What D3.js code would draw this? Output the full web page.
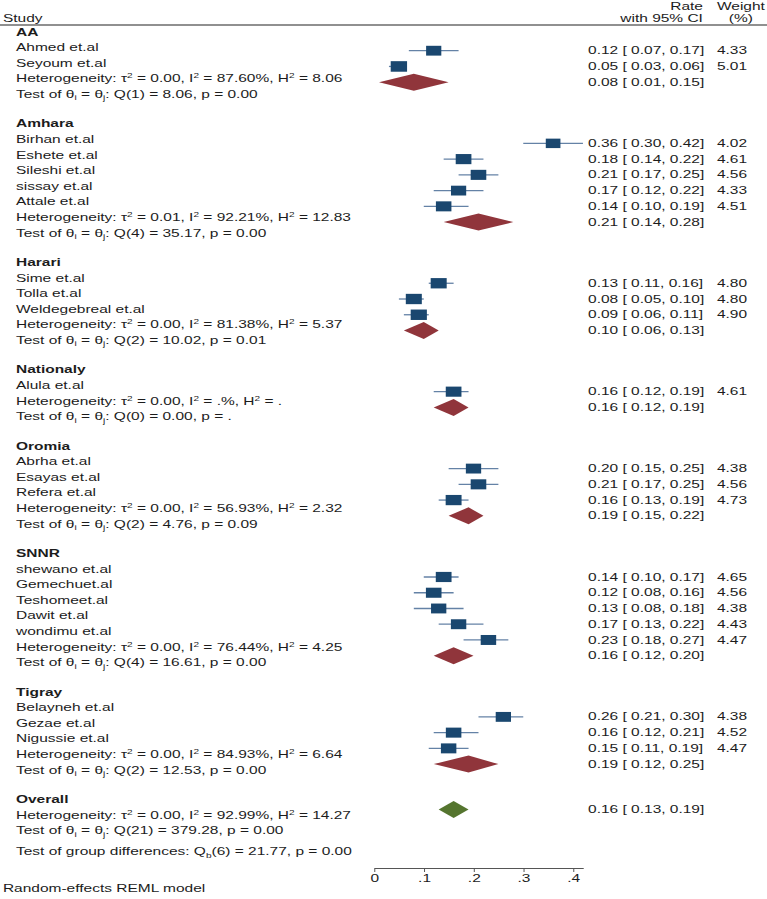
<!DOCTYPE html>
<html>
<head>
<meta charset="utf-8">
<script src="https://cdnjs.cloudflare.com/ajax/libs/d3/7.8.5/d3.min.js"></script>
<style>
  body { margin: 0; background: #fff; }
  text { font-family: "Liberation Sans", Arial, sans-serif; font-size: 10px; fill: #1c1c1c; }
</style>
</head>
<body>
<svg id="chart"></svg>
<script>
// subgroups
const groups = ['AA', 'Amhara', 'Harari', 'Nationaly', 'Oromia', 'SNNR', 'Tigray'];

// studies
const studies = [
  'Ahmed et.al', 'Seyoum et.al',
  'Birhan et.al', 'Eshete et.al', 'Sileshi et.al', 'sissay et.al', 'Attale et.al',
  'Sime et.al', 'Tolla et.al', 'Weldegebreal et.al',
  'Alula et.al',
  'Abrha et.al', 'Esayas et.al', 'Refera et.al',
  'shewano et.al', 'Gemechuet.al', 'Teshomeet.al', 'Dawit et.al', 'wondimu et.al',
  'Belayneh et.al', 'Gezae et.al', 'Nigussie et.al'
];
const studyGroup = [0, 0, 1, 1, 1, 1, 1, 2, 2, 2, 3, 4, 4, 4, 5, 5, 5, 5, 5, 6, 6, 6];
const rate  = [0.12, 0.05, 0.36, 0.18, 0.21, 0.17, 0.14, 0.13, 0.08, 0.09, 0.16, 0.20, 0.21, 0.16, 0.14, 0.12, 0.13, 0.17, 0.23, 0.26, 0.16, 0.15];
const lower = [0.07, 0.03, 0.30, 0.14, 0.17, 0.12, 0.10, 0.11, 0.05, 0.06, 0.12, 0.15, 0.17, 0.13, 0.10, 0.08, 0.08, 0.13, 0.18, 0.21, 0.12, 0.11];
const upper = [0.17, 0.06, 0.42, 0.22, 0.25, 0.22, 0.19, 0.16, 0.10, 0.11, 0.19, 0.25, 0.25, 0.19, 0.17, 0.16, 0.18, 0.22, 0.27, 0.30, 0.21, 0.19];
const weight = [4.33, 5.01, 4.02, 4.61, 4.56, 4.33, 4.51, 4.80, 4.80, 4.90, 4.61, 4.38, 4.56, 4.73, 4.65, 4.56, 4.38, 4.43, 4.47, 4.38, 4.52, 4.47];

// subgroup summaries
const groupRate  = [0.08, 0.21, 0.10, 0.16, 0.19, 0.16, 0.19];
const groupLower = [0.01, 0.14, 0.06, 0.12, 0.15, 0.12, 0.12];
const groupUpper = [0.15, 0.28, 0.13, 0.19, 0.22, 0.20, 0.25];
const groupTau2  = [0.00, 0.01, 0.00, 0.00, 0.00, 0.00, 0.00];
const groupI2    = [87.60, 92.21, 81.38, null, 56.93, 76.44, 84.93];
const groupH2    = [8.06, 12.83, 5.37, null, 2.32, 4.25, 6.64];
const groupQdf   = [1, 4, 2, 0, 2, 4, 2];
const groupQ     = [8.06, 35.17, 10.02, 0.00, 4.76, 16.61, 12.53];
const groupP     = [0.00, 0.00, 0.01, null, 0.09, 0.00, 0.00];

// overall
const overall = [0.16, 0.13, 0.19];
const overallHet = [0.00, 92.99, 14.27];
const overallQ = [21, 379.28, 0.00];
const groupDiff = [6, 21.77, 0.00];

const xTicks = [0, 0.1, 0.2, 0.3, 0.4];

const width = 767;
const height = 899;
const sx = 1.55;          // the picture is stretched sideways
const step = 15.6;
const gap = 29.4;
const base = 3.6;         // baseline below row centre

const f2 = d3.format('.2f');
const dot = v => v == null ? '.' : f2(v);
const ci = (r, lo, hi) => `${f2(r)} [ ${f2(lo)}, ${f2(hi)}]`;

const svg = d3.select('#chart')
  .attr('width', width)
  .attr('height', height);

const g = svg.append('g')
  .attr('transform', `scale(${sx},1)`);

const x = d3.scaleLinear()
  .domain([0, d3.max(upper)])
  .range([241.3, 376.1]);

const box = d3.scaleSqrt()
  .domain([0, 4.5])
  .range([0, 10]);

// build the rows of the left column
const hetParts = (t, i, h) =>
  [['Heterogeneity: τ'], ['2', 'sup'], [` = ${t}, I`], ['2', 'sup'],
   [` = ${i}%, H`], ['2', 'sup'], [` = ${h}`]];
const testParts = (df, q, p) =>
  [['Test of θ'], ['i', 'sub'], [' = θ'], ['j', 'sub'],
   [`: Q(${df}) = ${q}, p = ${p}`]];

const rows = [];
let y = 32;
groups.forEach((name, gi) => {
  rows.push({ kind: 'header', text: name, y: y });
  studies.forEach((s, i) => {
    if (studyGroup[i] !== gi) return;
    y += step;
    rows.push({ kind: 'study', i: i, text: s, y: y });
  });
  y += step;
  rows.push({ kind: 'het', gi: gi, y: y,
    parts: hetParts(f2(groupTau2[gi]), dot(groupI2[gi]), dot(groupH2[gi])) });
  y += step;
  rows.push({ kind: 'test', y: y,
    parts: testParts(groupQdf[gi], f2(groupQ[gi]), dot(groupP[gi])) });
  y += gap;
});
rows.push({ kind: 'header', text: 'Overall', y: y, overall: true });
y += step;
rows.push({ kind: 'text', y: y,
  parts: hetParts(f2(overallHet[0]), f2(overallHet[1]), f2(overallHet[2])) });
y += step;
rows.push({ kind: 'text', y: y,
  parts: testParts(overallQ[0], f2(overallQ[1]), f2(overallQ[2])) });
y += 21;
rows.push({ kind: 'text', y: y,
  parts: [['Test of group differences: Q'], ['b', 'sub'],
          [`(${groupDiff[0]}) = ${f2(groupDiff[1])}, p = ${f2(groupDiff[2])}`]] });

// the right column drifts a little against the left one
const yRight = d3.scaleLinear()
  .domain([47.6, 752])
  .range([50.7, 761.7]);

function rich(sel, parts) {
  let shift = 0;
  parts.forEach(([s, k]) => {
    const want = k === 'sup' ? -4 : k === 'sub' ? 2.5 : 0;
    sel.append('tspan')
      .attr('dy', want - shift)
      .style('font-size', k ? '6.5px' : null)
      .text(s);
    shift = want;
  });
}

// header
g.append('text').attr('x', 1.9).attr('y', 18 + base).text('Study');
g.append('text').attr('x', 453.5).attr('y', 6 + base).attr('text-anchor', 'end').text('Rate');
g.append('text').attr('x', 453.5).attr('y', 18 + base).attr('text-anchor', 'end').text('with 95% CI');
g.append('text').attr('x', 478).attr('y', 6 + base).attr('text-anchor', 'middle').text('Weight');
g.append('text').attr('x', 478).attr('y', 18 + base).attr('text-anchor', 'middle').text('(%)');
g.append('line')
  .attr('x1', 0).attr('x2', width / sx)
  .attr('y1', 25).attr('y2', 25)
  .attr('stroke', '#222')
  .attr('stroke-width', 1);

// left labels
const label = g.append('g').selectAll('text')
  .data(rows)
  .join('text')
    .attr('x', 10.3)
    .attr('y', d => d.y + base)
    .style('font-weight', d => d.kind === 'header' ? 'bold' : null);
label.filter(d => !d.parts).text(d => d.text);
label.filter(d => d.parts).each(function(d) { rich(d3.select(this), d.parts); });

// studies
const studyRows = rows.filter(d => d.kind === 'study');

g.append('g').selectAll('line')
  .data(studyRows)
  .join('line')
    .attr('x1', d => x(lower[d.i]))
    .attr('x2', d => x(upper[d.i]))
    .attr('y1', d => yRight(d.y))
    .attr('y2', d => yRight(d.y))
    .attr('stroke', '#6482a6')
    .attr('stroke-width', 1.3);

g.append('g').selectAll('rect')
  .data(studyRows)
  .join('rect')
    .attr('x', d => x(rate[d.i]) - box(weight[d.i]) / 2)
    .attr('y', d => yRight(d.y) - box(weight[d.i]) / 2)
    .attr('width', d => box(weight[d.i]))
    .attr('height', d => box(weight[d.i]))
    .attr('fill', '#1a476f');

g.append('g').selectAll('text')
  .data(studyRows)
  .join('text')
    .attr('x', 379.4)
    .attr('y', d => yRight(d.y) + base)
    .text(d => ci(rate[d.i], lower[d.i], upper[d.i]));

g.append('g').selectAll('text')
  .data(studyRows)
  .join('text')
    .attr('x', 482)
    .attr('y', d => yRight(d.y) + base)
    .attr('text-anchor', 'end')
    .text(d => f2(weight[d.i]));

// subgroup diamonds
const diamond = (r, lo, hi, yy) =>
  `M${x(lo)},${yy}L${x(r)},${yy - 8.5}L${x(hi)},${yy}L${x(r)},${yy + 8.5}Z`;

const hetRows = rows.filter(d => d.kind === 'het');

g.append('g').selectAll('path')
  .data(hetRows)
  .join('path')
    .attr('d', d => diamond(groupRate[d.gi], groupLower[d.gi], groupUpper[d.gi], yRight(d.y)))
    .attr('fill', '#90353b');

g.append('g').selectAll('text')
  .data(hetRows)
  .join('text')
    .attr('x', 379.4)
    .attr('y', d => yRight(d.y) + base)
    .text(d => ci(groupRate[d.gi], groupLower[d.gi], groupUpper[d.gi]));

// overall diamond
const ovRow = rows.find(d => d.overall);
g.append('path')
  .attr('d', diamond(overall[0], overall[1], overall[2], yRight(ovRow.y)))
  .attr('fill', '#55752f');
g.append('text')
  .attr('x', 379.4)
  .attr('y', yRight(ovRow.y) + base)
  .text(ci(overall[0], overall[1], overall[2]));

// axis
const axis = g.append('g')
  .attr('transform', 'translate(0,868)')
  .call(d3.axisBottom(x)
    .tickValues(xTicks)
    .tickSize(4)
    .tickSizeOuter(0)
    .tickFormat(v => v === 0 ? '0' : d3.format('.1f')(v).replace(/^0/, '')));
axis.selectAll('path, line')
  .attr('stroke', '#555')
  .attr('vector-effect', 'non-scaling-stroke');
axis.selectAll('text')
  .style('font-size', '10px')
  .attr('fill', '#1c1c1c');

g.append('text')
  .attr('x', 1.9)
  .attr('y', 888 + base)
  .text('Random-effects REML model');
</script>
</body>
</html>
